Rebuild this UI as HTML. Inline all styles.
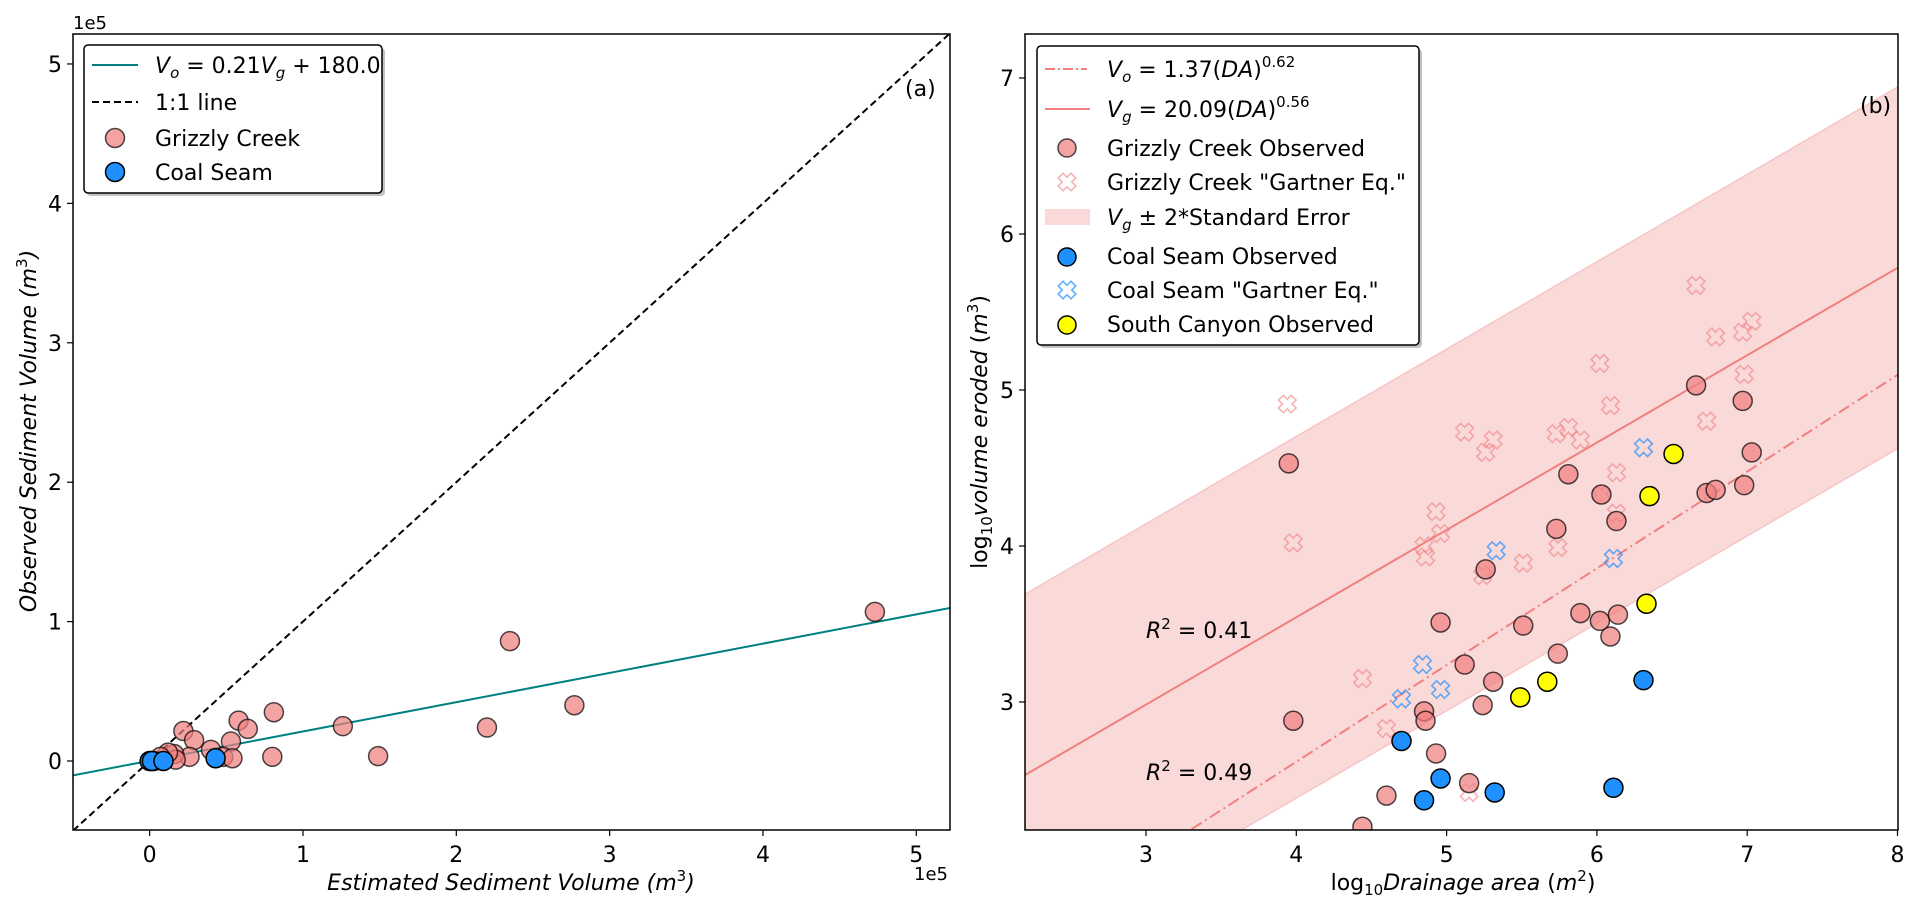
<!DOCTYPE html>
<html><head><meta charset="utf-8"><style>
html,body{margin:0;padding:0;background:#fff}
svg{display:block;font-family:"DejaVu Sans","Liberation Sans",sans-serif}
</style></head><body>
<svg id="fig" width="1921" height="911" viewBox="0 0 1921 911" xmlns="http://www.w3.org/2000/svg">
<defs>
<clipPath id="clipA"><rect x="73" y="34" width="877" height="796"/></clipPath>
<clipPath id="clipB"><rect x="1025" y="34" width="873" height="796"/></clipPath>
</defs>
<g id="panelA"></g>
<g id="panelB"></g>
</svg>
<script>
// ---------- Panel A data (units of 1e5 m^3) ----------
const gcEstimated = [4.73,2.35,2.77,2.20,1.26,1.49,0.81,0.80,0.22,0.29,0.58,0.64,0.53,0.40,0.48,0.54,0.26,0.16,0.17,0.12,0.07,0.01,0.03];
const gcObserved  = [1.07,0.86,0.40,0.24,0.25,0.035,0.35,0.03,0.215,0.15,0.29,0.23,0.14,0.08,0.03,0.02,0.03,0.05,0.01,0.06,0.03,0.0,0.0];
const csEstimated = [0.0,0.015,0.09,0.43];
const csObserved  = [0.0,0.0,0.0,0.02];
const fitSlope = 0.21, fitIntercept = 0.0018;
const ticksA = [0,1,2,3,4,5];

// ---------- Panel B data (log10) ----------
const gcObsDA  = [3.95,3.98,4.96,5.12,4.85,4.86,4.93,4.60,5.15,4.44,6.66,6.97,7.03,6.73,6.79,6.98,5.81,6.03,6.13,5.73,5.26,5.89,6.02,6.14,6.09,5.51,5.74,5.31,5.24];
const gcObsVol = [4.53,2.88,3.51,3.24,2.94,2.88,2.67,2.40,2.48,2.20,5.03,4.93,4.60,4.34,4.36,4.39,4.46,4.33,4.16,4.11,3.85,3.57,3.52,3.56,3.42,3.49,3.31,3.13,2.98];
const gcGartDA  = [3.94,3.98,4.93,4.96,4.85,4.86,4.44,4.60,5.12,5.15,6.66,6.79,6.97,7.03,6.98,6.73,6.02,6.09,5.73,5.81,5.89,5.26,5.31,6.13,6.03,6.13,5.74,5.51,5.24];
const gcGartVol = [4.91,4.02,4.22,4.08,4.00,3.93,3.15,2.83,4.73,2.42,5.67,5.34,5.37,5.44,5.10,4.80,5.17,4.90,4.72,4.76,4.68,4.60,4.68,4.47,4.33,4.21,3.99,3.89,3.81];
const csObsDA  = [4.70,4.96,4.85,6.31,6.11,5.32];
const csObsVol = [2.75,2.51,2.37,3.14,2.45,2.42];
const csGartDA  = [4.84,4.70,4.96,6.31,6.11,5.33];
const csGartVol = [3.24,3.02,3.08,4.63,3.92,3.97];
const scDA  = [6.51,6.35,6.33,5.67,5.49];
const scVol = [4.59,4.32,3.63,3.13,3.03];
const voCoef = 1.37, voExp = 0.62, vgCoef = 20.09, vgExp = 0.56, bandHalf = 1.16;
const ticksBx = [3,4,5,6,7,8];
const ticksBy = [3,4,5,6,7];

const NS="http://www.w3.org/2000/svg";
function mk(parent,tag,attrs,text){const e=document.createElementNS(NS,tag);for(const k in attrs)e.setAttribute(k,attrs[k]);if(text!==undefined)e.textContent=text;parent.appendChild(e);return e;}
function xShape(cx,cy){const a=3.4,b=9;const raw=[[-a,-b],[a,-b],[a,-a],[b,-a],[b,a],[a,a],[a,b],[-a,b],[-a,a],[-b,a],[-b,-a],[-a,-a]];
 const r=Math.SQRT1_2;return 'M'+raw.map(q=>[(cx+(q[0]-q[1])*r).toFixed(1),(cy+(q[0]+q[1])*r).toFixed(1)].join(',')).join('L')+'Z';}

// ---------- Panel A ----------
const A=document.getElementById('panelA');
const ax0=73,ax1=950,ay0=34,ay1=830,amin=-0.5,amax=5.22,aymin=-0.495,aymax=5.215;
const xA=v=>ax0+(v-amin)/(amax-amin)*(ax1-ax0);
const yA=v=>ay1-(v-aymin)/(aymax-aymin)*(ay1-ay0);
const gA=mk(A,'g',{'clip-path':'url(#clipA)'});
let l=mk(gA,'line',{x1:xA(amin),y1:yA(amin),x2:xA(amax),y2:yA(amax),stroke:'#000','stroke-width':2,'stroke-dasharray':'7,4'});


l=mk(gA,'line',{x1:xA(amin),y1:yA(fitSlope*amin+fitIntercept),x2:xA(amax),y2:yA(fitSlope*amax+fitIntercept),stroke:'#008080','stroke-width':2});


gcEstimated.forEach((v,i)=>{const c=mk(gA,'circle',{cx:xA(v),cy:yA(gcObserved[i]),r:9.5,fill:'rgba(240,128,128,0.72)',stroke:'rgba(0,0,0,0.7)','stroke-width':1.5});

});
csEstimated.forEach((v,i)=>{const c=mk(gA,'circle',{cx:xA(v),cy:yA(csObserved[i]),r:9.5,fill:'#1e90ff',stroke:'#000','stroke-width':1.5});

});
mk(A,'rect',{x:ax0,y:ay0,width:ax1-ax0,height:ay1-ay0,fill:'none',stroke:'#000','stroke-width':1.5});
ticksA.forEach(t=>{
 mk(A,'line',{x1:xA(t),y1:ay1,x2:xA(t),y2:ay1+6,stroke:'#000','stroke-width':1.2});
 let e=mk(A,'text',{x:xA(t),y:ay1+32,'font-size':22,'text-anchor':'middle'},t);
 
 
 mk(A,'line',{x1:ax0-6,y1:yA(t),x2:ax0,y2:yA(t),stroke:'#000','stroke-width':1.2});
 e=mk(A,'text',{x:ax0-11,y:yA(t)+8,'font-size':22,'text-anchor':'end'},t);
 
 
});
</script>
<script>
(function(){
const A=document.getElementById('panelA');
A.insertAdjacentHTML('beforeend',`
<text x="73" y="29" font-size="18">1e5</text>
<text x="948" y="880" font-size="18" text-anchor="end">1e5</text>
<text x="511" y="890" font-size="22" font-style="italic" text-anchor="middle">Estimated Sediment Volume (<tspan>m</tspan><tspan font-size="15" dy="-9" font-style="normal">3</tspan><tspan dy="9">)</tspan></text>
<text transform="translate(36,431) rotate(-90)" font-size="22" font-style="italic" text-anchor="middle">Observed Sediment Volume (m<tspan font-size="15" dy="-9" font-style="normal">3</tspan><tspan dy="9">)</tspan></text>
<text x="905" y="96" font-size="22">(a)</text>
<g>
<rect x="87" y="48" width="298" height="148" rx="4" fill="#999" opacity="0.6"/>
<rect x="84" y="45" width="298" height="148" rx="4" fill="#fff" stroke="#000" stroke-width="1.5"/>
<line x1="92" y1="65" x2="138" y2="65" stroke="#008080" stroke-width="2"/>
<text x="155" y="73" font-size="22"><tspan font-style="italic">V</tspan><tspan font-size="15" dy="5" font-style="italic">o</tspan><tspan dy="-5"> = 0.21</tspan><tspan font-style="italic">V</tspan><tspan font-size="15" dy="5" font-style="italic">g</tspan><tspan dy="-5"> + 180.0</tspan></text>
<line x1="92" y1="102" x2="138" y2="102" stroke="#000" stroke-width="2" stroke-dasharray="7,4"/>
<text x="155" y="110" font-size="22">1:1 line</text>
<circle cx="115" cy="138" r="9.5" fill="rgba(240,128,128,0.72)" stroke="rgba(0,0,0,0.7)" stroke-width="1.5"/>
<text x="155" y="146" font-size="22">Grizzly Creek</text>
<circle cx="115" cy="172" r="9.5" fill="#1e90ff" stroke="#000" stroke-width="1.5"/>
<text x="155" y="180" font-size="22">Coal Seam</text>
</g>`);
})();
</script>
<script>
(function(){
const B=document.getElementById('panelB');
const bx0=1025,bx1=1898,by0=34,by1=830;
const xB=v=>1146+(v-3)*150.3;
const yB=v=>78+(7-v)*156;
const xmin=3-(1146-bx0)/150.3, xmax=3+(bx1-1146)/150.3;
const g=mk(B,'g',{'clip-path':'url(#clipB)'});
const vg=x=>Math.log10(vgCoef)+vgExp*x, vo=x=>Math.log10(voCoef)+voExp*x;
let pts=`${xB(xmin)},${yB(vg(xmin)+bandHalf)} ${xB(xmax)},${yB(vg(xmax)+bandHalf)} ${xB(xmax)},${yB(vg(xmax)-bandHalf)} ${xB(xmin)},${yB(vg(xmin)-bandHalf)}`;
let e=mk(g,'polygon',{points:pts,fill:'rgba(240,128,128,0.3)',stroke:'rgba(240,128,128,0.4)','stroke-width':1.2});


e=mk(g,'line',{x1:xB(xmin),y1:yB(vg(xmin)),x2:xB(xmax),y2:yB(vg(xmax)),stroke:'#f08080','stroke-width':2});


e=mk(g,'line',{x1:xB(xmin),y1:yB(vo(xmin)),x2:xB(xmax),y2:yB(vo(xmax)),stroke:'#f08080','stroke-width':2,'stroke-dasharray':'12,4,2,4'});


gcGartDA.forEach((v,i)=>{const p=mk(g,'path',{d:xShape(xB(v),yB(gcGartVol[i])),fill:'none',stroke:'rgba(240,128,128,0.6)','stroke-width':1.6});

});
csGartDA.forEach((v,i)=>{const p=mk(g,'path',{d:xShape(xB(v),yB(csGartVol[i])),fill:'none',stroke:'rgba(30,144,255,0.7)','stroke-width':1.6});

});
gcObsDA.forEach((v,i)=>{const c=mk(g,'circle',{cx:xB(v),cy:yB(gcObsVol[i]),r:9.5,fill:'rgba(240,128,128,0.72)',stroke:'rgba(0,0,0,0.7)','stroke-width':1.5});

});
csObsDA.forEach((v,i)=>{const c=mk(g,'circle',{cx:xB(v),cy:yB(csObsVol[i]),r:9.5,fill:'#1e90ff',stroke:'#000','stroke-width':1.5});

});
scDA.forEach((v,i)=>{const c=mk(g,'circle',{cx:xB(v),cy:yB(scVol[i]),r:9.5,fill:'#ffff00',stroke:'#000','stroke-width':1.5});

});
mk(B,'rect',{x:bx0,y:by0,width:bx1-bx0,height:by1-by0,fill:'none',stroke:'#000','stroke-width':1.5});
ticksBx.forEach(t=>{mk(B,'line',{x1:xB(t),y1:by1,x2:xB(t),y2:by1+6,stroke:'#000','stroke-width':1.2});
 const e=mk(B,'text',{x:xB(t),y:by1+32,'font-size':22,'text-anchor':'middle'},t);
 
 });
ticksBy.forEach(t=>{mk(B,'line',{x1:bx0-6,y1:yB(t),x2:bx0,y2:yB(t),stroke:'#000','stroke-width':1.2});
 const e=mk(B,'text',{x:bx0-11,y:yB(t)+8,'font-size':22,'text-anchor':'end'},t);
 
 });
B.insertAdjacentHTML('beforeend',`
<text x="1146" y="638" font-size="22"><tspan font-style="italic">R</tspan><tspan font-size="15" dy="-9">2</tspan><tspan dy="9"> = 0.41</tspan></text>
<text x="1146" y="780" font-size="22"><tspan font-style="italic">R</tspan><tspan font-size="15" dy="-9">2</tspan><tspan dy="9"> = 0.49</tspan></text>
<text x="1860" y="113" font-size="22">(b)</text>
<text x="1463" y="890" font-size="22" text-anchor="middle">log<tspan font-size="15" dy="5">10</tspan><tspan dy="-5" font-style="italic">Drainage area</tspan> (<tspan font-style="italic">m</tspan><tspan font-size="15" dy="-9">2</tspan><tspan dy="9">)</tspan></text>
<text transform="translate(987,432) rotate(-90)" font-size="22" text-anchor="middle">log<tspan font-size="15" dy="5">10</tspan><tspan dy="-5" font-style="italic">volume eroded</tspan> (<tspan font-style="italic">m</tspan><tspan font-size="15" dy="-9">3</tspan><tspan dy="9">)</tspan></text>
<g>
<rect x="1040" y="49" width="382" height="299" rx="4" fill="#999" opacity="0.6"/>
<rect x="1037" y="46" width="382" height="299" rx="4" fill="#fff" stroke="#000" stroke-width="1.5"/>
<line x1="1045" y1="69" x2="1087" y2="69" stroke="#f08080" stroke-width="2" stroke-dasharray="10,3,2,3"/>
<text x="1107" y="77" font-size="22"><tspan font-style="italic">V</tspan><tspan font-size="15" dy="5" font-style="italic">o</tspan><tspan dy="-5"> = 1.37(</tspan><tspan font-style="italic">DA</tspan><tspan>)</tspan><tspan font-size="15" dy="-10">0.62</tspan></text>
<line x1="1045" y1="109" x2="1090" y2="109" stroke="#f08080" stroke-width="2"/>
<text x="1107" y="117" font-size="22"><tspan font-style="italic">V</tspan><tspan font-size="15" dy="5" font-style="italic">g</tspan><tspan dy="-5"> = 20.09(</tspan><tspan font-style="italic">DA</tspan><tspan>)</tspan><tspan font-size="15" dy="-10">0.56</tspan></text>
<circle cx="1067" cy="148" r="9" fill="rgba(240,128,128,0.72)" stroke="rgba(0,0,0,0.7)" stroke-width="1.5"/>
<text x="1107" y="156" font-size="22">Grizzly Creek Observed</text>
<path d="${xShape(1067,182)}" fill="none" stroke="rgba(240,128,128,0.6)" stroke-width="1.6"/>
<text x="1107" y="190" font-size="22">Grizzly Creek "Gartner Eq."</text>
<rect x="1045" y="209" width="45" height="16" fill="rgba(240,128,128,0.3)"/>
<text x="1107" y="225" font-size="22"><tspan font-style="italic">V</tspan><tspan font-size="15" dy="5" font-style="italic">g</tspan><tspan dy="-5"> ± 2*Standard Error</tspan></text>
<circle cx="1067" cy="257" r="9" fill="#1e90ff" stroke="#000" stroke-width="1.5"/>
<text x="1107" y="264" font-size="22">Coal Seam Observed</text>
<path d="${xShape(1067,290)}" fill="none" stroke="rgba(30,144,255,0.7)" stroke-width="1.6"/>
<text x="1107" y="298" font-size="22">Coal Seam "Gartner Eq."</text>
<circle cx="1067" cy="325" r="9" fill="#ffff00" stroke="#000" stroke-width="1.5"/>
<text x="1107" y="332" font-size="22">South Canyon Observed</text>
</g>`);
})();
</script>
</body></html>
